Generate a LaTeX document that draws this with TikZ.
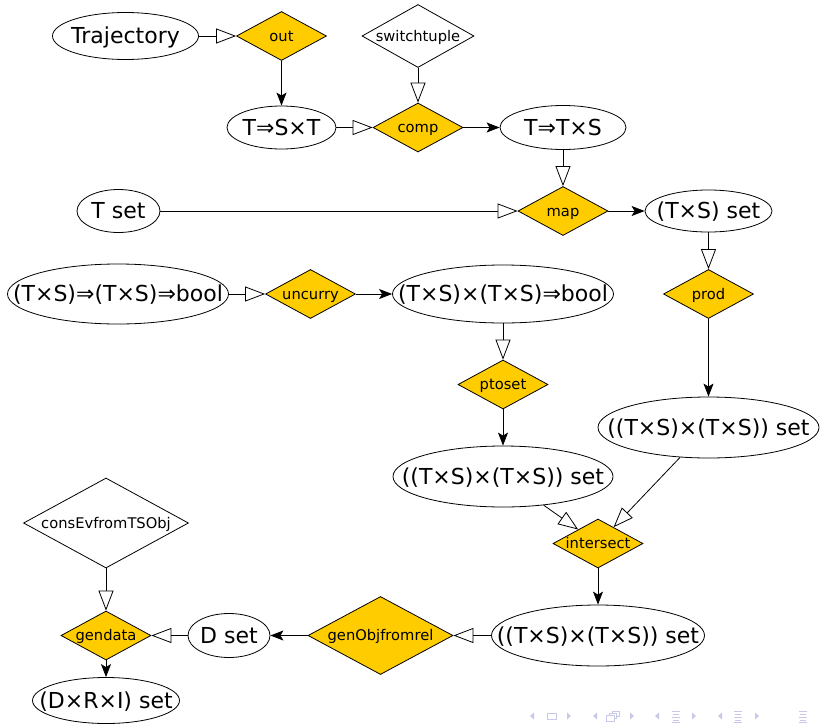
\documentclass[tikz,border=0pt]{standalone}
\usepackage{fontspec}
\setmainfont{DejaVu Sans}
\usetikzlibrary{shapes.geometric,arrows.meta}
\definecolor{gold}{HTML}{FFCC00}
\definecolor{navc}{RGB}{200,200,235}
\newcommand\ctext[1]{\smash{\raisebox{-.36em}{\makebox[0pt]{#1}}}}
\begin{document}
\begin{tikzpicture}[x=1pt,y=-1pt,
  ell/.style={ellipse, draw, line width=0.8pt, inner sep=0pt, font=\fontsize{22}{22}\selectfont},
  op/.style={diamond, draw, fill=gold, line width=0.8pt, inner sep=0pt, minimum width=90pt, minimum height=49pt, font=\fontsize{14.7}{14.7}\selectfont},
  wop/.style={op, fill=white},
  hol/.style={-{Triangle[open,length=20pt,width=15pt]}, line width=0.8pt},
  fil/.style={-{Stealth[length=13pt,width=10pt,inset=3pt]}, line width=0.8pt},
  navtri/.style={fill=navc, draw=none},
]
\useasboundingbox (0,0) rectangle (820,726);
\node[ell, minimum width=146pt, minimum height=47pt] (traj) at (125.5,36) {\ctext{Trajectory}};
\node[op] (out) at (281.5,36) {\ctext{out}};
\node[wop, minimum width=112pt, minimum height=63pt] (sw) at (418,36) {\ctext{switchtuple}};
\node[ell, minimum width=109pt, minimum height=43pt] (tst) at (281.5,127.5) {\ctext{T⇒S×T}};
\node[op] (comp) at (418,127.5) {\ctext{comp}};
\node[ell, minimum width=126pt, minimum height=44pt] (tts) at (563,127.5) {\ctext{T⇒T×S}};
\node[ell, minimum width=83pt, minimum height=43pt] (tset) at (118.5,211) {\ctext{T set}};
\node[op] (map) at (563,211) {\ctext{map}};
\node[ell, minimum width=127pt, minimum height=42pt] (tsset) at (708.5,211) {\ctext{(T×S) set}};
\node[ell, minimum width=221pt, minimum height=60pt] (curry) at (118,294) {\ctext{(T×S)⇒(T×S)⇒bool}};
\node[op] (uncurry) at (310.5,294) {\ctext{uncurry}};
\node[ell, minimum width=221pt, minimum height=58pt] (rel) at (503,294) {\ctext{(T×S)×(T×S)⇒bool}};
\node[op] (prod) at (708.5,294) {\ctext{prod}};
\node[op] (ptoset) at (503,384.5) {\ctext{ptoset}};
\node[ell, minimum width=221pt, minimum height=61pt] (pr) at (708.5,427.5) {\ctext{((T×S)×(T×S)) set}};
\node[ell, minimum width=220pt, minimum height=61pt] (pl) at (503,476.5) {\ctext{((T×S)×(T×S)) set}};
\node[op] (inter) at (598,543.5) {\ctext{intersect}};
\node[ell, minimum width=213pt, minimum height=61pt] (pb) at (598,635.5) {\ctext{((T×S)×(T×S)) set}};
\node[op, minimum width=145pt, minimum height=78pt] (gen) at (380.5,635.5) {\ctext{genObjfromrel}};
\node[ell, minimum width=82pt, minimum height=44pt] (dset) at (229,635.5) {\ctext{D set}};
\node[op] (gendata) at (106,635.5) {\ctext{gendata}};
\node[wop, minimum width=165pt, minimum height=90pt] (cons) at (106,523) {\ctext{consEvfromTSObj}};
\node[ell, minimum width=147pt, minimum height=46pt] (drs) at (106,700.5) {\ctext{(D×R×I) set}};

\draw[hol] (traj) -- (out);
\draw[fil] (out) -- (tst);
\draw[hol] (sw) -- (comp);
\draw[hol] (tst) -- (comp);
\draw[fil] (comp) -- (tts);
\draw[hol] (tts) -- (map);
\draw[hol] (tset) -- (map);
\draw[fil] (map) -- (tsset);
\draw[hol] (tsset) -- (prod);
\draw[fil] (prod) -- (pr);
\draw[hol] (curry) -- (uncurry);
\draw[fil] (uncurry) -- (rel);
\draw[hol] (rel) -- (ptoset);
\draw[fil] (ptoset) -- (pl);
\draw[hol] (pl) -- (inter);
\draw[hol] (pr) -- (inter);
\draw[fil] (inter) -- (pb);
\draw[hol] (pb) -- (gen);
\draw[fil] (gen) -- (dset);
\draw[hol] (dset) -- (gendata);
\draw[hol] (cons) -- (gendata);
\draw[fil] (gendata) -- (drs);

% navigation symbols
\foreach \x in {532,595,657,720} \fill[navtri] (\x-2,716) -- (\x+2,712.5) -- (\x+2,719.5) -- cycle;
\foreach \x in {569,632,694,757} \fill[navtri] (\x+2,716) -- (\x-2,712.5) -- (\x-2,719.5) -- cycle;
\draw[navc, line width=0.8pt] (547,713) rectangle (556,719);
\draw[navc, line width=0.8pt, fill=white] (612,711) rectangle (619,716);
\draw[navc, line width=0.8pt, fill=white] (609.5,713) rectangle (616.5,718);
\draw[navc, line width=0.8pt, fill=white] (606,715) rectangle (614,721);
\foreach \x in {676,738,803} {
  \draw[navc, line width=0.9pt] (\x-4,711) -- (\x+4,711) (\x-3,714) -- (\x+3,714) (\x-4,717) -- (\x+4,717) (\x-3,720) -- (\x+3,720) (\x-4,722.5) -- (\x+4,722.5);
}
\end{tikzpicture}
\end{document}
